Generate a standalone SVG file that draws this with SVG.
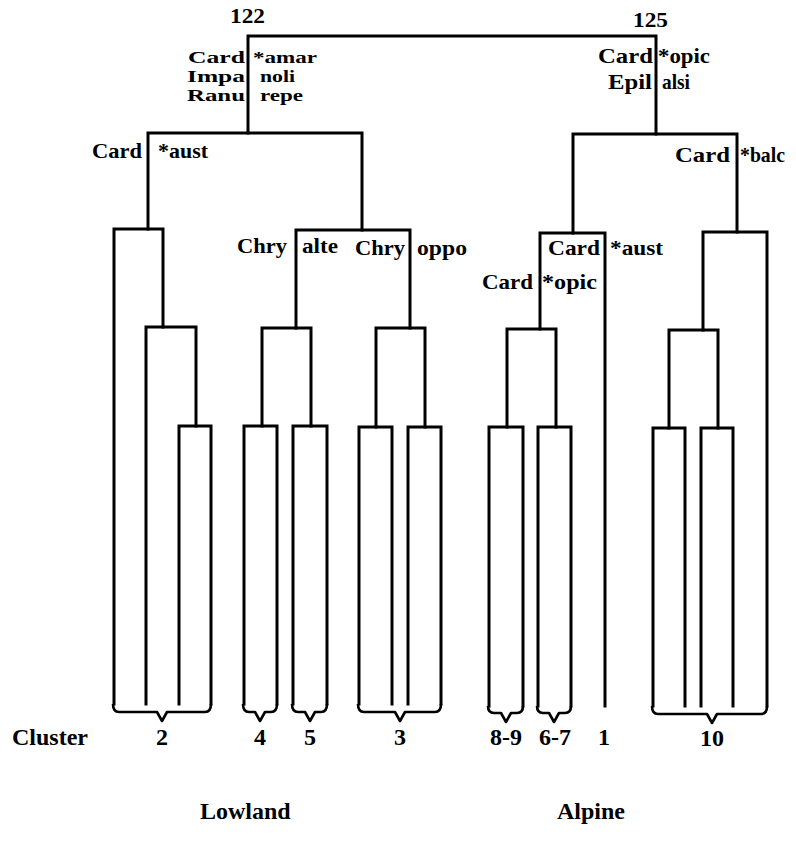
<svg xmlns="http://www.w3.org/2000/svg" width="796" height="849" viewBox="0 0 796 849">
<style>
.t{font-family:"Liberation Serif","Times New Roman",serif;font-weight:bold;font-size:22px;fill:#000}
.s{font-size:17px}
.b{font-family:"Liberation Serif","Times New Roman",serif;font-weight:bold;font-size:24px;fill:#000}
.m{text-anchor:middle}
.ln{fill:none;stroke:#000;stroke-width:3;stroke-linecap:square;stroke-linejoin:miter}
.br{fill:none;stroke:#000;stroke-width:2.6;stroke-linejoin:round}
</style>
<rect width="796" height="849" fill="#fff"/>
<g id="connectors">
<path class="ln" d="M248,133 V36 H656 V134"/>
<path class="ln" d="M148,229 V133 H362 V230"/>
<path class="ln" d="M114,704 V229 H163 V327"/>
<path class="ln" d="M146,704 V327 H196 V426"/>
<path class="ln" d="M179,704 V426 H211 V704"/>
<path class="ln" d="M296,328 V230 H410 V328"/>
<path class="ln" d="M262,426 V328 H311 V426"/>
<path class="ln" d="M244,704 V426 H277 V704"/>
<path class="ln" d="M293,704 V426 H327 V704"/>
<path class="ln" d="M376,427 V328 H425 V427"/>
<path class="ln" d="M359,704 V427 H392 V704"/>
<path class="ln" d="M408,704 V427 H441 V704"/>
<path class="ln" d="M573,233 V134 H737 V232"/>
<path class="ln" d="M540,329 V233 H605 V706"/>
<path class="ln" d="M507,427 V329 H556 V427"/>
<path class="ln" d="M489,706 V427 H523 V706"/>
<path class="ln" d="M538,706 V427 H571 V706"/>
<path class="ln" d="M703,330 V232 H767 V706"/>
<path class="ln" d="M669,428 V330 H718 V428"/>
<path class="ln" d="M653,706 V428 H685 V706"/>
<path class="ln" d="M701,706 V428 H733 V706"/>
<path class="br" d="M113,704 Q113,712 119,712 H157 L162,721 L167,712 H205 Q211,712 211,704"/>
<path class="br" d="M243,704 Q243,712 249,712 H255 L260,721 L265,712 H271 Q277,712 277,704"/>
<path class="br" d="M292,704 Q292,712 298,712 H305 L310,721 L315,712 H321 Q327,712 327,704"/>
<path class="br" d="M358,704 Q358,712 364,712 H395 L400,721 L405,712 H435 Q441,712 441,704"/>
<path class="br" d="M488,706 Q488,713 494,713 H501 L506,722 L511,713 H517 Q523,713 523,706"/>
<path class="br" d="M537,706 Q537,713 543,713 H549 L554,722 L559,713 H565 Q571,713 571,706"/>
<path class="br" d="M652,706 Q652,714 658,714 H707 L712,723 L717,714 H761 Q767,714 767,706"/>
</g>
<g id="node-122">
<text class="t" x="230" y="23" textLength="35" lengthAdjust="spacingAndGlyphs">122</text>
<text class="t s" x="188" y="63" textLength="57" lengthAdjust="spacingAndGlyphs">Card</text>
<text class="t s" x="253" y="63" textLength="64" lengthAdjust="spacingAndGlyphs">*amar</text>
<text class="t s" x="187" y="82" textLength="58" lengthAdjust="spacingAndGlyphs">Impa</text>
<text class="t s" x="260" y="82" textLength="35" lengthAdjust="spacingAndGlyphs">noli</text>
<text class="t s" x="187" y="101" textLength="58" lengthAdjust="spacingAndGlyphs">Ranu</text>
<text class="t s" x="260" y="101" textLength="43" lengthAdjust="spacingAndGlyphs">repe</text>
</g>
<g id="node-125">
<text class="t" x="633" y="27" textLength="35" lengthAdjust="spacingAndGlyphs">125</text>
<text class="t" x="598" y="63" textLength="55" lengthAdjust="spacingAndGlyphs">Card</text>
<text class="t" x="658" y="63" textLength="52" lengthAdjust="spacingAndGlyphs">*opic</text>
<text class="t" x="608" y="89" textLength="44" lengthAdjust="spacingAndGlyphs">Epil</text>
<text class="t" x="662" y="89" textLength="28" lengthAdjust="spacingAndGlyphs">alsi</text>
</g>
<g id="node-low-aust">
<text class="t" x="92" y="158" textLength="50" lengthAdjust="spacingAndGlyphs">Card</text>
<text class="t" x="158" y="158" textLength="50" lengthAdjust="spacingAndGlyphs">*aust</text>
</g>
<g id="node-balc">
<text class="t" x="675" y="162" textLength="55" lengthAdjust="spacingAndGlyphs">Card</text>
<text class="t" x="740" y="162" textLength="45" lengthAdjust="spacingAndGlyphs">*balc</text>
</g>
<g id="node-alte">
<text class="t" x="237" y="253" textLength="50" lengthAdjust="spacingAndGlyphs">Chry</text>
<text class="t" x="302" y="253" textLength="36" lengthAdjust="spacingAndGlyphs">alte</text>
</g>
<g id="node-oppo">
<text class="t" x="355" y="255" textLength="50" lengthAdjust="spacingAndGlyphs">Chry</text>
<text class="t" x="417" y="255" textLength="50" lengthAdjust="spacingAndGlyphs">oppo</text>
</g>
<g id="node-alp-aust">
<text class="t" x="548" y="255" textLength="52" lengthAdjust="spacingAndGlyphs">Card</text>
<text class="t" x="610" y="255" textLength="53" lengthAdjust="spacingAndGlyphs">*aust</text>
</g>
<g id="node-alp-opic">
<text class="t" x="482" y="289" textLength="51" lengthAdjust="spacingAndGlyphs">Card</text>
<text class="t" x="542" y="289" textLength="55" lengthAdjust="spacingAndGlyphs">*opic</text>
</g>
<g id="clusters">
<text class="b" x="12" y="745">Cluster</text>
<text class="b m" x="162" y="745">2</text>
<text class="b m" x="260" y="745">4</text>
<text class="b m" x="310" y="745">5</text>
<text class="b m" x="400" y="745">3</text>
<text class="b m" x="506" y="745">8-9</text>
<text class="b m" x="555" y="745">6-7</text>
<text class="b m" x="604" y="745">1</text>
<text class="b m" x="712" y="746">10</text>
</g>
<g id="regions">
<text class="b" x="200" y="819">Lowland</text>
<text class="b" x="557" y="819">Alpine</text>
</g>
</svg>
